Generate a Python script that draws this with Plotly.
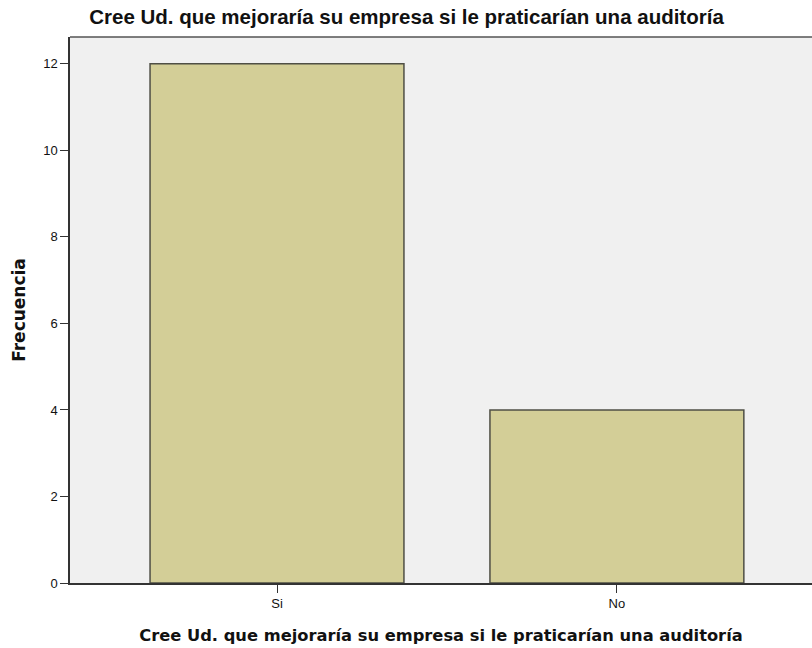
import plotly.graph_objects as go

categories = ["Si", "No"]
frecuencia = [12, 4]
y_ticks = [0, 2, 4, 6, 8, 10, 12]

title_text = "Cree Ud. que mejoraría su empresa si le praticarían una auditoría"

fig = go.Figure()
fig.add_trace(go.Bar(
    x=categories, y=frecuencia, width=0.747,
    marker=dict(color="#D3CE97", line=dict(color="#4f4f45", width=1.5)),
    hoverinfo="skip",
))

W, H = 812, 648
left, right, top, bottom = 70, 812, 37, 583
fig.update_layout(
    width=W, height=H,
    margin=dict(l=left, r=W - right, t=top, b=H - bottom, pad=0),
    paper_bgcolor="white",
    plot_bgcolor="#F0F0F0",
    showlegend=False,
    font=dict(family="Liberation Sans, Arial, sans-serif", color="#000"),
    title=dict(text=title_text, x=406.5 / W, xanchor="center", y=1 - 17 / H, yanchor="middle",
               font=dict(size=20.5, family="Liberation Sans, Arial, sans-serif", color="#111", weight="bold")),
    xaxis=dict(
        automargin=False,
        range=[-0.609, 1.574],
        showline=True, linecolor="#333", linewidth=1.5,
        ticks="outside", ticklen=8, tickcolor="#333", tickwidth=1,
        ticklabelstandoff=0,
        tickfont=dict(size=13, color="#111"),
        showgrid=False, zeroline=False, fixedrange=True,
        title=dict(text=title_text, standoff=19,
                   font=dict(size=16.3, family="DejaVu Sans, Verdana, sans-serif", color="#111", weight="bold")),
    ),
    yaxis=dict(
        automargin=False,
        range=[0, 12.62],
        tickvals=y_ticks,
        showline=True, linecolor="#333", linewidth=1.5,
        ticks="outside", ticklen=8, tickcolor="#333", tickwidth=1,
        tickfont=dict(size=13, color="#111"),
        showgrid=False, zeroline=False, fixedrange=True,
        title=dict(text="Frecuencia", standoff=13,
                   font=dict(size=17, family="DejaVu Sans, Verdana, sans-serif", color="#111", weight="bold")),
    ),
)
fig.add_shape(type="line", xref="paper", yref="paper", x0=0, x1=1, y0=1, y1=1,
              line=dict(color="#555", width=1.5))

fig.write_html("out.html", config={"displayModeBar": False},
               post_script="document.body.style.margin='0';document.body.style.overflow='hidden';")
